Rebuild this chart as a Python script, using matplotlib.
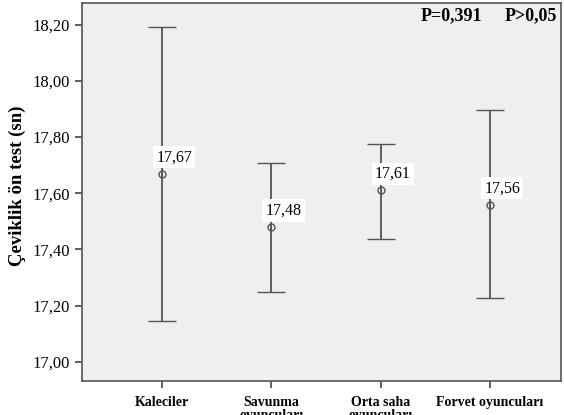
import matplotlib
matplotlib.use("Agg")
import matplotlib.pyplot as plt
import numpy as np

categories = ["Kaleciler", "Savunma\noyuncuları", "Orta saha\noyuncuları", "Forvet oyuncuları"]
means = [17.67, 17.48, 17.61, 17.56]
lower = [17.147, 17.25, 17.436, 17.226]
upper = [18.19, 17.707, 17.775, 17.896]
yticks = [17.00, 17.20, 17.40, 17.60, 17.80, 18.00, 18.20]
ytick_labels = ["17,00", "17,20", "17,40", "17,60", "17,80", "18,00", "18,20"]
mean_labels = ["17,67", "17,48", "17,61", "17,56"]
ylabel = "Çeviklik ön test (sn)"
p_text1 = "P=0,391"
p_text2 = "P>0,05"

plt.rcParams['font.family'] = ['Liberation Serif', 'DejaVu Serif']

fig = plt.figure(figsize=(5.64, 4.15), dpi=100)
ax = fig.add_axes([82/564, 1-381/415, (561-82)/564, (381-3)/415])
ax.set_facecolor('#efefef')

x = np.arange(len(categories))
m = np.array(means)
yerr = np.vstack([m - np.array(lower), np.array(upper) - m])
ax.errorbar(x, m, yerr=yerr, fmt='o', color='#555555', ecolor='#555555',
            elinewidth=1.3, capsize=10, capthick=1.3, markersize=5,
            markerfacecolor='none', markeredgewidth=1.0)
# small vertical stroke inside circle marker (SPSS style)
ax.plot(x, m, linestyle='none', marker='|', color='#555555', markersize=5, markeredgewidth=0.8)

for xi, mi, lab in zip(x, m, mean_labels):
    ax.annotate(lab, xy=(xi, mi), xytext=(-4, 6), textcoords='offset points',
                ha='left', va='bottom', fontsize=11.5, color='black',
                bbox=dict(boxstyle='square,pad=0.2', fc='white', ec='none'))

ax.set_xlim(-0.73, 3.65)
ax.set_ylim(16.932, 18.277)
ax.set_yticks(yticks)
ax.set_yticklabels(ytick_labels, fontsize=12)
ax.set_xticks(x)
ax.set_xticklabels(categories, fontsize=10, fontweight='bold', linespacing=1.0)
ax.tick_params(axis='both', direction='out', length=5, width=1.2, color='#444444')
ax.tick_params(axis='x', pad=6)
ax.tick_params(axis='y', pad=4)
for s in ax.spines.values():
    s.set_color('#555555')
    s.set_linewidth(1.2)

fig.text(17/564, 1-186/415, ylabel, rotation=90, ha='center', va='center',
         fontsize=13.5, fontweight='bold')

ax.text(0.706, 0.966, p_text1, transform=ax.transAxes, ha='left', va='center',
        fontsize=13, fontweight='bold')
ax.text(0.883, 0.966, p_text2, transform=ax.transAxes, ha='left', va='center',
        fontsize=13, fontweight='bold')

fig.savefig("out.png", dpi=100)
